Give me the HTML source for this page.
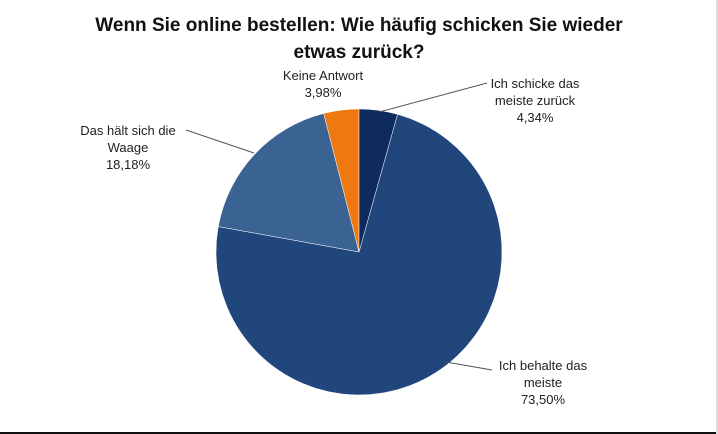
<!DOCTYPE html>
<html><head><meta charset="utf-8"><style>
body{margin:0;background:#fff;}
#c{position:relative;width:718px;height:434px;background:#fff;overflow:hidden;font-family:"Liberation Sans",sans-serif;}
.lbl{position:absolute;font-size:13px;color:#222;text-align:center;line-height:17px;}
</style></head><body>
<div id="c">
<div style="position:absolute;left:0;width:718px;top:12px;text-align:center;font-weight:bold;font-size:19px;line-height:27px;color:#111;">Wenn Sie online bestellen: Wie häufig schicken Sie wieder<br>etwas zurück?</div>
<svg id="s" width="718" height="434" style="position:absolute;left:0;top:0">
<line x1="379" y1="112" x2="487" y2="83" stroke="#555" stroke-width="1"/>
<line x1="254" y1="153" x2="186" y2="130" stroke="#555" stroke-width="1"/>
<line x1="446" y1="362" x2="492" y2="370" stroke="#555" stroke-width="1"/>
<rect x="0" y="432" width="718" height="2" fill="#111"/>
<rect x="716" y="0" width="2" height="434" fill="#ddd"/>
</svg>
<div class="lbl" style="left:268px;top:67px;width:110px;">Keine Antwort<br>3,98%</div>
<div class="lbl" style="left:480px;top:75px;width:110px;">Ich schicke das<br>meiste zurück<br>4,34%</div>
<div class="lbl" style="left:72px;top:122px;width:112px;">Das hält sich die<br>Waage<br>18,18%</div>
<div class="lbl" style="left:488px;top:357px;width:110px;">Ich behalte das<br>meiste<br>73,50%</div>
</div>
<script>
const categories=["Ich schicke das meiste zurück","Ich behalte das meiste","Das hält sich die Waage","Keine Antwort"];
const values=[4.34,73.50,18.18,3.98];
const colors=["#0e2a5e","#21467c","#3a6292","#f07810"];
const cx=359,cy=252,r=143;
const svg=document.getElementById('s');
const total=values.reduce((a,b)=>a+b,0);
let a0=-Math.PI/2;
values.forEach((v,i)=>{
  const a1=a0+v/total*2*Math.PI;
  const x0=cx+r*Math.cos(a0),y0=cy+r*Math.sin(a0),x1=cx+r*Math.cos(a1),y1=cy+r*Math.sin(a1);
  const p=document.createElementNS('http://www.w3.org/2000/svg','path');
  p.setAttribute('d',`M${cx},${cy}L${x0},${y0}A${r},${r} 0 ${a1-a0>Math.PI?1:0} 1 ${x1},${y1}Z`);
  p.setAttribute('fill',colors[i]);
  p.setAttribute('stroke','#ffffff');
  p.setAttribute('stroke-width','0.5');
  
  
  svg.insertBefore(p,svg.firstChild);
  a0=a1;
});
</script>
</body></html>
